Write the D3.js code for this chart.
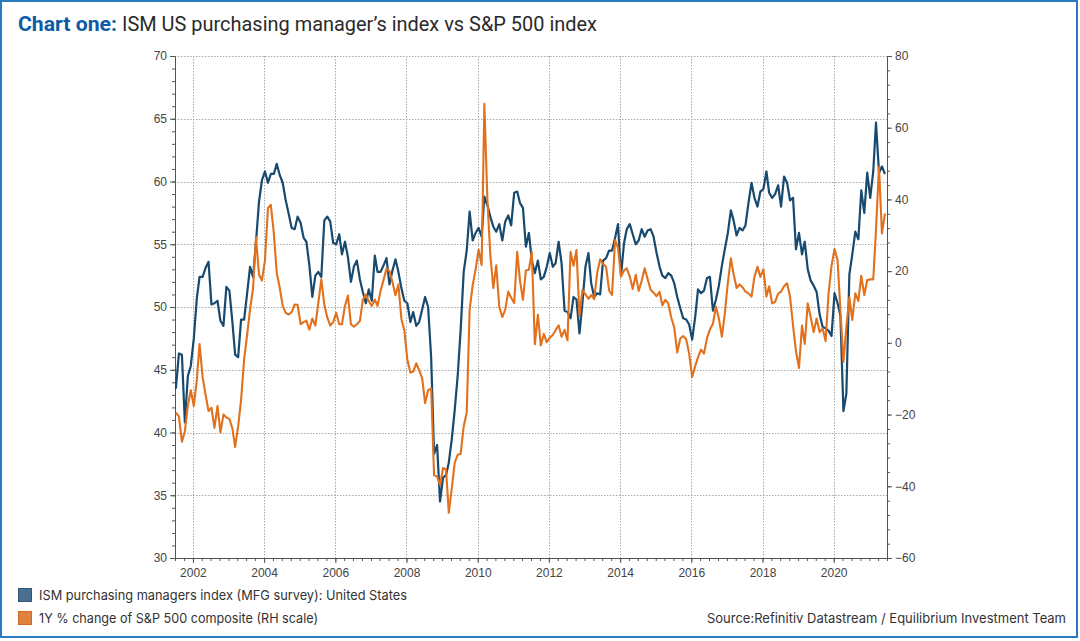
<!DOCTYPE html>
<html><head><meta charset="utf-8">
<script src="https://cdn.jsdelivr.net/npm/d3@7"></script>
<style>
html,body{margin:0;padding:0;background:#fff;}
svg{display:block;}
</style></head>
<body><svg id="chart" width="1080" height="641"></svg>
<script>
// ---- DATA ----
const firstMonth = [2001, 6];   // July 2001 (monthly data, Jul 2001 - Jun 2021)
const ismValues = [
43.5,46.3,46.2,40.8,44.5,45.3,
47.5,50.7,52.4,52.4,53.1,53.6,50.2,50.3,50.5,48.9,48.5,51.6,
51.3,48.8,46.2,46.0,49.0,49.0,51.0,53.2,52.4,55.2,58.4,60.1,
60.8,59.9,60.6,60.6,61.4,60.5,59.9,58.5,57.4,56.3,56.2,57.2,
56.7,55.5,55.2,53.3,50.8,52.5,52.8,52.4,56.9,57.2,56.8,55.1,
55.0,55.8,54.2,55.2,54.0,52.0,53.2,53.7,52.2,51.2,50.3,51.4,
50.5,54.1,52.8,52.8,53.3,53.9,51.8,52.9,53.8,52.8,51.5,50.5,
50.3,48.8,49.6,48.5,48.8,49.8,50.8,50.0,46.0,38.3,39.0,34.5,
36.4,36.6,37.6,39.5,41.8,44.6,48.2,52.8,54.5,57.6,55.3,55.9,
56.3,55.6,58.8,58.1,57.2,56.4,56.0,56.6,55.3,56.8,57.3,56.5,
59.1,59.2,58.3,57.9,54.8,55.9,53.7,52.7,53.7,52.2,52.4,53.2,
54.3,53.2,53.5,55.2,53.5,49.7,49.6,49.1,50.8,50.6,47.9,50.3,
53.2,54.3,51.9,50.8,51.1,51.0,53.7,53.9,54.5,54.5,55.5,56.6,
52.5,55.1,56.2,56.6,55.8,55.0,55.3,56.2,55.6,56.1,56.2,55.6,
54.3,53.2,52.5,52.3,52.7,52.5,51.9,50.8,49.9,49.1,49.0,48.6,
47.4,49.2,51.4,51.1,51.3,52.3,52.4,49.7,50.6,51.7,53.3,54.6,
55.9,57.7,56.9,55.7,56.3,56.1,56.5,58.3,59.9,58.7,58.0,59.2,
59.4,60.8,59.1,58.7,59.0,59.7,58.0,60.4,59.9,58.5,58.7,54.6,
55.9,54.2,55.2,53.0,52.1,51.7,51.2,49.4,48.4,48.3,48.1,47.7,
51.1,50.3,49.3,41.7,43.1,52.6,54.2,56.0,55.4,59.3,57.5,60.7,
58.7,60.8,64.7,60.7,61.2,60.6
];
const spxValues = [
-19.5,-20.5,-27.6,-24.7,-17.5,-13.2,
-17.6,-10.3,-0.3,-9.5,-14.4,-19.0,-18.1,-23.7,-17.6,-25.0,-20.0,-20.8,
-21.2,-23.9,-29.0,-23.3,-15.9,-4.7,2.0,9.3,15.3,29.5,19.0,17.4,
23.0,37.6,38.5,30.6,19.5,15.3,10.3,8.4,7.9,8.6,10.7,10.6,
5.2,5.8,6.2,3.7,6.8,4.8,11.1,17.7,10.7,7.1,4.8,5.8,
8.4,5.2,5.2,10.3,13.2,5.2,4.5,5.2,6.1,12.0,13.5,11.6,
10.3,12.1,10.3,14.5,17.5,20.7,20.0,17.0,13.3,16.3,6.6,3.5,
-4.7,-8.3,-8.0,-5.7,-7.6,-9.9,-16.8,-13.2,-12.7,-36.9,-37.3,-39.6,
-34.9,-35.3,-47.4,-40.5,-33.4,-31.2,-30.9,-23.3,-19.4,9.3,16.0,20.5,
26.0,21.7,66.7,40.0,24.5,15.3,21.6,10.0,7.2,9.2,14.3,12.6,
11.1,25.4,17.5,12.0,20.2,20.4,25.4,-0.4,7.8,-0.7,2.5,0.2,
1.4,2.2,3.5,4.9,1.7,3.6,0.7,25.4,21.5,25.9,7.5,14.7,
13.5,12.3,13.3,12.2,19.4,23.3,22.0,21.2,14.6,13.4,28.7,26.5,
18.5,20.2,20.8,18.5,15.0,19.0,14.5,17.3,20.8,17.8,14.8,14.0,
13.0,14.2,10.5,12.0,11.0,7.0,4.3,-2.7,1.2,1.9,1.0,-3.0,
-9.5,-6.5,-4.0,-1.9,-3.0,1.3,3.7,5.3,10.1,6.8,1.7,8.2,
16.7,23.6,19.2,15.3,16.3,15.5,14.3,13.8,12.9,18.4,21.2,18.4,
20.5,12.9,15.8,11.0,11.4,13.7,14.3,15.8,16.6,12.9,4.9,-2.3,
-7.0,4.8,-0.3,11.0,7.2,3.0,6.8,3.0,4.0,0.5,14.0,21.5,
26.2,23.0,9.0,-5.3,4.4,12.7,6.4,13.8,11.7,18.7,13.3,17.5,
17.7,17.7,31.5,49.1,30.5,36.1
];
const yearTicks = [2002,2004,2006,2008,2010,2012,2014,2016,2018,2020];
const leftTicks = [30,35,40,45,50,55,60,65,70];
const rightTicks = [-60,-40,-20,0,20,40,60,80];
const titleBold = "Chart one:";
const titleRest = "ISM US purchasing manager\u2019s index vs S&P 500 index";
const legendLabels = ["ISM purchasing managers index (MFG survey): United States",
                      "1Y % change of S&P 500 composite (RH scale)"];
const sourceText = "Source:Refinitiv Datastream / Equilibrium Investment Team";

// ---- BUILD ----
const svg = d3.select("#chart");
const W = 1080, H = 641;
const m = {left:175, right:887, top:56, bottom:558};
const colIsm = "#174a6e", colSpx = "#e2711d";

const x = d3.scaleTime().domain([new Date(2001,6,1), new Date(2021,6,1)]).range([m.left, m.right]);
const yL = d3.scaleLinear().domain([30,70]).range([m.bottom, m.top]);
const yR = d3.scaleLinear().domain([-60,80]).range([m.bottom, m.top]);

const dates = ismValues.map((_, i) => new Date(firstMonth[0], firstMonth[1] + i, 10));
const ismData = ismValues.map((v,i)=>({date:dates[i], v}));
const spxData = spxValues.map((v,i)=>({date:new Date(firstMonth[0], firstMonth[1] + i, 10), v}));

svg.append("rect").attr("width",W).attr("height",H).attr("fill","#fff");
svg.append("rect").attr("x",1).attr("y",1).attr("width",1076).attr("height",636)
  .attr("fill","none").attr("stroke","#2b79bf").attr("stroke-width",2);

// title
const t = svg.append("g");
t.append("text").attr("x",18).attr("y",31).text(titleBold)
  .attr("font-family","Roboto, 'Liberation Sans', sans-serif").attr("font-weight",700)
  .attr("font-size",21).attr("fill","#0d5ba6")
  .attr("textLength",99).attr("lengthAdjust","spacingAndGlyphs");
t.append("text").attr("x",122).attr("y",31).text(titleRest)
  .attr("font-family","Roboto, 'Liberation Sans', sans-serif").attr("font-weight",400)
  .attr("font-size",21).attr("fill","#2a2a2a")
  .attr("textLength",475).attr("lengthAdjust","spacingAndGlyphs");

// grid
const grid = svg.append("g").attr("stroke","#a8a8a8").attr("stroke-width",1).attr("stroke-dasharray","1.5,1.5");
grid.selectAll("line.h").data(leftTicks.filter(d=>d>30)).join("line")
  .attr("x1",m.left).attr("x2",m.right).attr("y1",d=>Math.round(yL(d))+0.5).attr("y2",d=>Math.round(yL(d))+0.5);
grid.selectAll("line.v").data(yearTicks).join("line")
  .attr("y1",m.top).attr("y2",m.bottom)
  .attr("x1",d=>Math.round(x(new Date(d,0,1)))+0.5).attr("x2",d=>Math.round(x(new Date(d,0,1)))+0.5);

// axes
const axisFont = "'Liberation Sans', Arial, sans-serif";
function styleAxis(g){
  g.selectAll("path.domain").attr("stroke","#555");
  g.selectAll("line").attr("stroke","#555");
  g.selectAll("text").attr("font-family",axisFont).attr("font-size",12).attr("fill","#444");
}
svg.append("g").attr("transform",`translate(${m.left},0)`)
  .call(d3.axisLeft(yL).tickValues(d3.range(30,71,1)).tickSize(3).tickFormat("").tickSizeOuter(0)).call(styleAxis);
svg.append("g").attr("transform",`translate(${m.left},0)`)
  .call(d3.axisLeft(yL).tickValues(leftTicks).tickSize(5).tickPadding(3).tickSizeOuter(0)).call(styleAxis);
svg.append("g").attr("transform",`translate(${m.right},0)`)
  .call(d3.axisRight(yR).tickValues(d3.range(-60,81,4)).tickSize(3).tickFormat("").tickSizeOuter(0)).call(styleAxis);
svg.append("g").attr("transform",`translate(${m.right},0)`)
  .call(d3.axisRight(yR).tickValues(rightTicks).tickSize(5).tickPadding(3).tickSizeOuter(0)).call(styleAxis);
svg.append("g").attr("transform",`translate(0,${m.bottom})`)
  .call(d3.axisBottom(x).tickValues(d3.timeMonth.every(3).range(new Date(2001,6,1), new Date(2021,7,1))).tickSize(3).tickFormat("").tickSizeOuter(0)).call(styleAxis);
svg.append("g").attr("transform",`translate(0,${m.bottom})`)
  .call(d3.axisBottom(x).tickValues(yearTicks.map(y=>new Date(y,0,1))).tickSize(5).tickPadding(5).tickFormat(d3.timeFormat("%Y")).tickSizeOuter(0)).call(styleAxis);

// lines
const lineL = d3.line().x(d=>x(d.date)).y(d=>yL(d.v));
const lineR = d3.line().x(d=>x(d.date)).y(d=>yR(d.v));
svg.append("path").datum(ismData).attr("d",lineL).attr("fill","none")
  .attr("stroke",colIsm).attr("stroke-width",2.2).attr("stroke-linejoin","round");
svg.append("path").datum(spxData).attr("d",lineR).attr("fill","none")
  .attr("stroke",colSpx).attr("stroke-width",2.1).attr("stroke-linejoin","round");

// legend
const legFont = "Inter, 'Noto Sans', sans-serif";
const legend = svg.append("g");
const sw = [{fill:"#4b6f91",stroke:"#2f5678"},{fill:"#e0813f",stroke:"#cf6b27"}];
const legW = [368, 279];
legendLabels.forEach((lab,i)=>{
  const yy = 588 + i*23;
  legend.append("rect").attr("x",18.5).attr("y",yy+0.5).attr("width",13).attr("height",13)
    .attr("fill",sw[i].fill).attr("stroke",sw[i].stroke);
  legend.append("text").attr("x",39).attr("y",yy+12).text(lab)
    .attr("font-family",legFont).attr("font-size",13.5).attr("fill","#333")
    .attr("textLength",legW[i]).attr("lengthAdjust","spacingAndGlyphs");
});
svg.append("text").attr("x",1066).attr("y",623).attr("text-anchor","end").text(sourceText)
  .attr("font-family",legFont).attr("font-size",13.5).attr("fill","#333")
  .attr("textLength",359).attr("lengthAdjust","spacingAndGlyphs");
</script>
</body></html>
